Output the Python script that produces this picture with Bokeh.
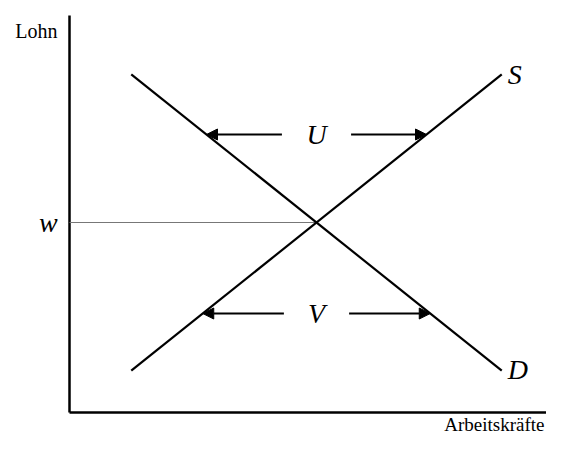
import numpy as np
from bokeh.plotting import figure
from bokeh.models import Range1d, Arrow, NormalHead
from bokeh.core.properties import value
from bokeh.embed import file_html
from bokeh.resources import INLINE

# ---- data -------------------------------------------------------------
y_axis_title = "Lohn"
x_axis_title = "Arbeitskräfte"
wage_label = "w"

demand_L = [1.25, 8.75]
demand_w = [8.9, 1.1]
supply_L = [1.25, 8.75]
supply_w = [1.1, 8.9]
curve_labels = ["S", "D"]

gap_wages = [7.316, 2.605]     # wage levels where the gaps are shown
gap_labels = ["U", "V"]
gap_half_space = [0.70, 0.66]  # half width of the gap around the label

axis_top = 10.447
axis_right = 9.66

# ---- derived ----------------------------------------------------------
dL = np.array(demand_L); dw = np.array(demand_w)
sL = np.array(supply_L); sw = np.array(supply_w)
md = (dw[1] - dw[0]) / (dL[1] - dL[0]); bd = dw[0] - md * dL[0]
ms = (sw[1] - sw[0]) / (sL[1] - sL[0]); bs = sw[0] - ms * sL[0]
eq_L = (bs - bd) / (md - ms)
eq_w = md * eq_L + bd

def L_of(m, b, w):
    return (w - b) / m

SERIF = value("Liberation Serif")

# ---- figure -----------------------------------------------------------
px_x, px_y = 49.4, 38.0
W, H = 546, 437
org_x, org_y = 69, 412  # origin inside canvas (px from top-left)
p = figure(width=W, height=H, output_backend="svg", toolbar_location=None,
           x_range=Range1d(-org_x / px_x, (W - org_x) / px_x),
           y_range=Range1d(-(H - org_y) / px_y, org_y / px_y),
           min_border=0, tools="")
p.axis.visible = False
p.grid.visible = False
p.outline_line_color = None
p.background_fill_color = "white"
p.border_fill_color = "white"

# axes
p.line([0, 0], [0, axis_top], line_color="black", line_width=2.5)
p.line([0, axis_right], [0, 0], line_color="black", line_width=2.5)

# wage line
p.line([0, eq_L], [eq_w, eq_w], line_color="#777777", line_width=1.2)

# curves
p.line(demand_L, demand_w, line_color="black", line_width=2.2)
p.line(supply_L, supply_w, line_color="black", line_width=2.2)

# curve labels at upper-right end of S and lower-right end of D
p.text(x=[sL[1] + 0.12, dL[1] + 0.12], y=[sw[1], dw[1] + 0.02], text=curve_labels,
       text_font=SERIF, text_font_style="italic", text_font_size="28px",
       text_align="left", text_baseline="middle", text_color="black")

# gaps
for wv, lab, hs in zip(gap_wages, gap_labels, gap_half_space):
    Ld = L_of(md, bd, wv)
    Ls = L_of(ms, bs, wv)
    left, right = min(Ld, Ls), max(Ld, Ls)
    for xs, xe in [(eq_L - hs, left), (eq_L + hs, right)]:
        p.add_layout(Arrow(end=NormalHead(size=11, fill_color="black", line_color="black", line_width=1),
                           x_start=xs, y_start=wv, x_end=xe, y_end=wv,
                           line_color="black", line_width=2))
    p.text(x=[eq_L], y=[wv], text=[lab], text_font=SERIF, text_font_style="italic",
           text_font_size="28px", text_align="center", text_baseline="middle",
           text_color="black")

# axis labels
p.text(x=[-0.243], y=[10.05], text=[y_axis_title], text_font=SERIF,
       text_font_size="20px", text_align="right", text_baseline="middle",
       text_color="black")
p.text(x=[9.615], y=[-0.605], text=[x_axis_title], text_font=SERIF,
       text_font_size="19px", text_align="right", text_baseline="bottom",
       text_color="black")
p.text(x=[-0.43], y=[eq_w], text=[wage_label], text_font=SERIF, text_font_style="italic",
       text_font_size="28px", text_align="center", text_baseline="middle",
       text_color="black")

open("out.html", "w").write(file_html(p, INLINE))
